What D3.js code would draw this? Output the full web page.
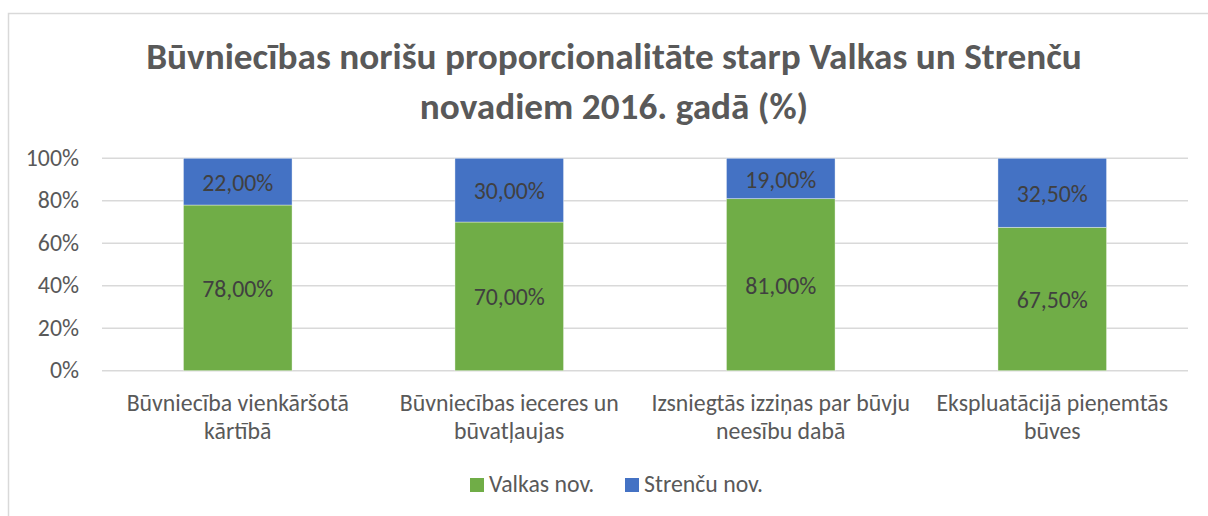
<!DOCTYPE html>
<html>
<head>
<meta charset="utf-8">
<script src="https://cdn.jsdelivr.net/npm/d3@7"></script>
<style>
  body { margin: 0; background: #fff; }
  svg { display: block; font-family: Carlito, "Open Sans", sans-serif; }
</style>
</head>
<body>
<svg id="chart"></svg>
<script>
// Chart data
const categories = [
  ["Būvniecība vienkāršotā", "kārtībā"],
  ["Būvniecības ieceres un", "būvatļaujas"],
  ["Izsniegtās izziņas par būvju", "neesību dabā"],
  ["Ekspluatācijā pieņemtās", "būves"]
];
const valkas = [78.0, 70.0, 81.0, 67.5];
const strencu = [22.0, 30.0, 19.0, 32.5];
const seriesNames = ["Valkas nov.", "Strenču nov."];
const yTicks = [0, 20, 40, 60, 80, 100];
const titleLines = ["Būvniecības norišu proporcionalitāte starp Valkas un Strenču", "novadiem 2016. gadā (%)"];

const width = 1208, height = 516;
const margin = {top: 158.3, right: 20, bottom: 145.3, left: 102};
const colors = ["#70ad47", "#4472c4"];
const labelSize = 23.8;

const svg = d3.select("#chart")
  .attr("width", width)
  .attr("height", height);

// Chart area border
svg.append("rect")
  .attr("x", 8.5).attr("y", 13.5)
  .attr("width", 1210).attr("height", 520)
  .attr("fill", "#fff")
  .attr("stroke", "#d9d9d9")
  .attr("stroke-width", 1.5);

// Title, sized so the first line spans the same width as the original
const title = svg.append("g").selectAll("text")
  .data(titleLines)
  .enter().append("text")
  .attr("x", 614)
  .attr("y", (d, i) => 68.5 + i * 50.5)
  .attr("text-anchor", "middle")
  .attr("font-size", 30)
  .attr("font-weight", "bold")
  .attr("fill", "#595959")
  .text(d => d);
const w0 = title.node().getComputedTextLength();
title.attr("font-size", 30 * 936 / w0);

const x = d3.scaleBand()
  .domain(d3.range(categories.length))
  .range([margin.left, width - margin.right])
  .paddingInner(0.6)
  .paddingOuter(0.3);

const y = d3.scaleLinear()
  .domain([0, 100])
  .range([height - margin.bottom, margin.top]);

// Gridlines
svg.append("g").selectAll("line")
  .data(yTicks)
  .enter().append("line")
  .attr("x1", margin.left).attr("x2", width - margin.right)
  .attr("y1", d => y(d)).attr("y2", d => y(d))
  .attr("stroke", "#d9d9d9")
  .attr("stroke-width", 1.5);

// Y axis labels
svg.append("g").selectAll("text")
  .data(yTicks)
  .enter().append("text")
  .attr("x", 79)
  .attr("y", d => y(d))
  .attr("dy", "0.32em")
  .attr("text-anchor", "end")
  .attr("font-size", labelSize)
  .attr("fill", "#595959")
  .text(d => d + "%");

// Stacked bars
const stackData = categories.map((c, i) => ({i, valkas: valkas[i], strencu: strencu[i]}));
const stacked = d3.stack().keys(["valkas", "strencu"])(stackData);

const fmt = v => v.toFixed(2).replace(".", ",") + "%";

stacked.forEach((layer, si) => {
  const g = svg.append("g");
  g.selectAll("rect")
    .data(layer)
    .enter().append("rect")
    .attr("x", d => x(d.data.i))
    .attr("width", x.bandwidth())
    .attr("y", d => y(d[1]))
    .attr("height", d => y(d[0]) - y(d[1]))
    .attr("fill", colors[si])
    .attr("stroke", "#ffffff")
    .attr("stroke-opacity", 0.5)
    .attr("stroke-width", 0.75);

  g.selectAll("text")
    .data(layer)
    .enter().append("text")
    .attr("x", d => x(d.data.i) + x.bandwidth() / 2)
    .attr("y", d => y((d[0] + d[1]) / 2) + 1.5)
    .attr("dy", "0.32em")
    .attr("text-anchor", "middle")
    .attr("font-size", labelSize)
    .attr("fill", "#404040")
    .text(d => fmt(d[1] - d[0]));
});

// Category labels
const catG = svg.append("g").selectAll("text")
  .data(categories)
  .enter().append("text")
  .attr("x", (d, i) => x(i) + x.bandwidth() / 2)
  .attr("y", 410.5)
  .attr("text-anchor", "middle")
  .attr("font-size", labelSize)
  .attr("fill", "#595959");
catG.selectAll("tspan")
  .data(d => d)
  .enter().append("tspan")
  .attr("x", function() { return d3.select(this.parentNode).attr("x"); })
  .attr("dy", (d, i) => i === 0 ? 0 : 28.5)
  .text(d => d);

// Legend
const legendX = [470, 625];
const legend = svg.append("g").selectAll("g")
  .data(seriesNames)
  .enter().append("g")
  .attr("transform", (d, i) => `translate(${legendX[i]},478)`);
legend.append("rect")
  .attr("width", 14).attr("height", 14)
  .attr("fill", (d, i) => colors[i]);
legend.append("text")
  .attr("x", 19).attr("y", 14.3)
  .attr("font-size", labelSize)
  .attr("fill", "#595959")
  .text(d => d);
</script>
</body>
</html>
